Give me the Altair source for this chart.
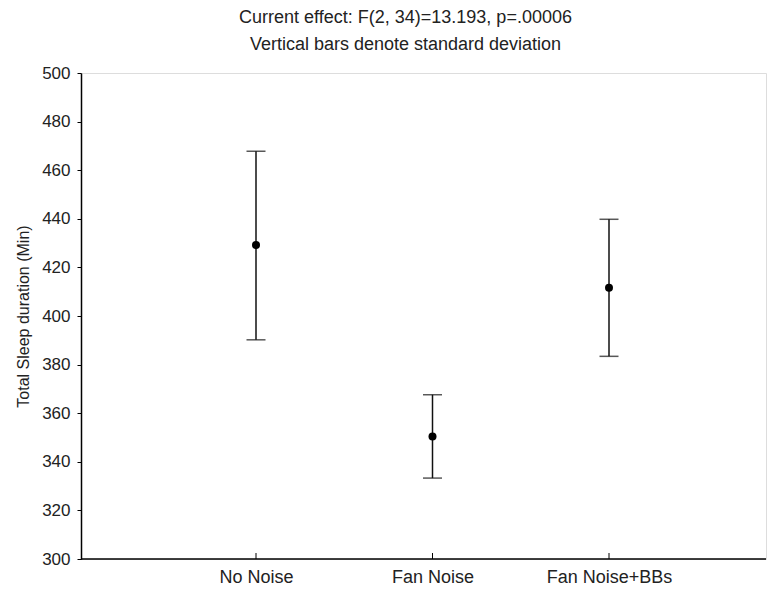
import altair as alt
import pandas as pd

conditions = ["No Noise", "Fan Noise", "Fan Noise+BBs"]
means = [429.2, 350.4, 411.6]
lower = [390.2, 333.3, 383.4]
upper = [467.8, 367.6, 439.8]
y_ticks = [300, 320, 340, 360, 380, 400, 420, 440, 460, 480, 500]
title_lines = ["Current effect: F(2, 34)=13.193, p=.00006",
               "Vertical bars denote standard deviation"]
y_title = "Total Sleep duration (Min)"

df = pd.DataFrame({"cond": conditions, "mean": means, "lo": lower, "hi": upper})

W, H = 685, 486
FONT = "Liberation Sans"

xenc = alt.X("cond:N", sort=conditions, title=None,
             scale=alt.Scale(type="point", range=[175, 528], padding=0),
             axis=alt.Axis(labelAngle=0, ticks=False, domain=False,
                           labelFontSize=18, labelFont=FONT, labelColor="#222", labelPadding=9))
yscale = alt.Scale(domain=[300, 500], nice=False, zero=False)
yaxis = alt.Axis(values=y_ticks, grid=False, domainColor="#000", domainWidth=1.5,
                 tickColor="#000", tickSize=4, labelFontSize=17, labelFont=FONT,
                 labelColor="#222", labelPadding=7, titleFont=FONT, titleFontSize=16,
                 titleFontWeight="normal", titleColor="#222", titlePadding=10)

base = alt.Chart(df)

rules = base.mark_rule(color="#111", strokeWidth=1.5).encode(
    x=xenc,
    y=alt.Y("lo:Q", scale=yscale, axis=yaxis, title=y_title),
    y2="hi:Q",
)
caps_lo = base.mark_tick(color="#111", size=19, thickness=1.5, orient="horizontal").encode(
    x=alt.X("cond:N", sort=conditions), y="lo:Q")
caps_hi = base.mark_tick(color="#111", size=19, thickness=1.5, orient="horizontal").encode(
    x=alt.X("cond:N", sort=conditions), y="hi:Q")
pts = base.mark_point(filled=True, color="#000", size=64, opacity=1).encode(
    x=alt.X("cond:N", sort=conditions), y="mean:Q")
xticks = base.mark_rule(color="#000", strokeWidth=1).encode(
    x=alt.X("cond:N", sort=conditions), y=alt.value(H), y2=alt.value(H - 6))
xdomain = alt.Chart(pd.DataFrame({"d": [0]})).mark_rule(color="#000", strokeWidth=1.5).encode(
    x=alt.value(0), x2=alt.value(W), y=alt.value(H))

chart = alt.layer(rules, caps_lo, caps_hi, pts, xticks, xdomain).properties(
    width=W, height=H,
    padding={"left": 7, "top": 1, "right": 0, "bottom": 0},
    title=alt.TitleParams(title_lines, fontSize=18, fontWeight="normal", font=FONT,
                          color="#222", lineHeight=27, anchor="middle", dx=-18, offset=10),
).configure_view(stroke=None).configure(background="white")

chart.save("out.html", embed_options={"renderer": "svg", "actions": False})
